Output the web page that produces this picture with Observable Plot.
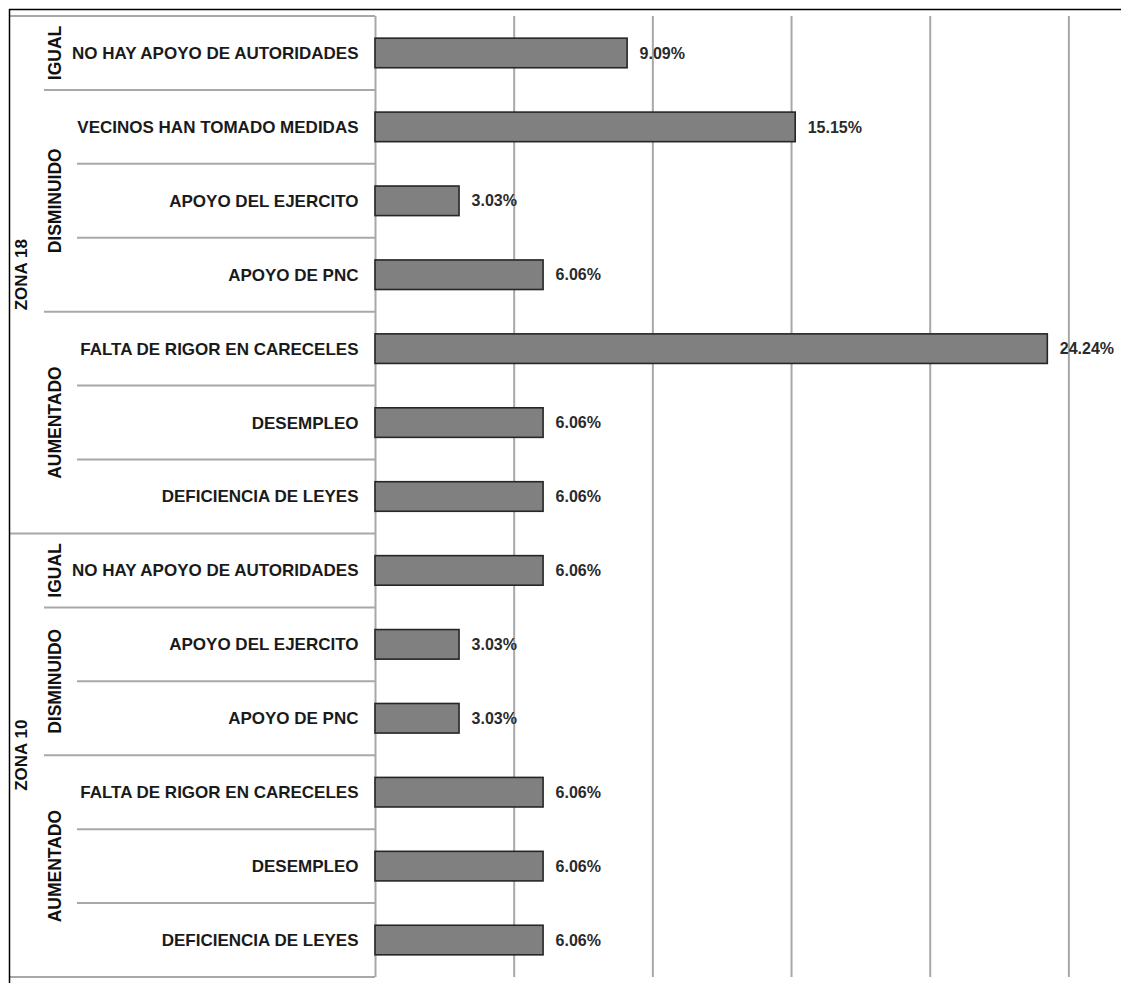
<!DOCTYPE html>
<html>
<head>
<meta charset="utf-8">
<script src="https://cdn.jsdelivr.net/npm/d3@7"></script>
<script src="https://cdn.jsdelivr.net/npm/@observablehq/plot@0.6"></script>
<style>
  html, body { margin: 0; padding: 0; background: #fff; }
  #chart svg { display: block; }
</style>
</head>
<body>
<div id="chart"></div>
<script>
// ---- data ----
const zona = ["ZONA 18","ZONA 18","ZONA 18","ZONA 18","ZONA 18","ZONA 18","ZONA 18",
              "ZONA 10","ZONA 10","ZONA 10","ZONA 10","ZONA 10","ZONA 10"];
const cambio = ["IGUAL","DISMINUIDO","DISMINUIDO","DISMINUIDO","AUMENTADO","AUMENTADO","AUMENTADO",
                "IGUAL","DISMINUIDO","DISMINUIDO","AUMENTADO","AUMENTADO","AUMENTADO"];
const motivo = ["NO HAY APOYO DE AUTORIDADES","VECINOS HAN TOMADO MEDIDAS","APOYO DEL EJERCITO","APOYO DE PNC",
                "FALTA DE RIGOR EN CARECELES","DESEMPLEO","DEFICIENCIA DE LEYES",
                "NO HAY APOYO DE AUTORIDADES","APOYO DEL EJERCITO","APOYO DE PNC",
                "FALTA DE RIGOR EN CARECELES","DESEMPLEO","DEFICIENCIA DE LEYES"];
const porcentaje = [9.09, 15.15, 3.03, 6.06, 24.24, 6.06, 6.06, 6.06, 3.03, 3.03, 6.06, 6.06, 6.06];
const xTicks = [5, 10, 15, 20, 25];

const rows = motivo.map((m, i) => ({i, zona: zona[i], cambio: cambio[i], motivo: m, v: porcentaje[i]}));

const labelFont = "'Liberation Sans Narrow', 'Liberation Sans', Arial, sans-serif";
const gridColor = "#a8a8a8";

const plot = Plot.plot({
  width: 1121,
  height: 983,
  marginLeft: 375,
  marginRight: 11,
  marginTop: 16,
  marginBottom: 6,
  style: {fontFamily: labelFont, background: "#fff"},
  x: {domain: [0, 26.5], axis: null},
  y: {domain: [0, rows.length], reverse: true, axis: null},
  marks: [
    Plot.ruleX(xTicks, {stroke: gridColor, strokeWidth: 2}),
    Plot.ruleX([0], {stroke: gridColor, strokeWidth: 2}),
    Plot.rectX(rows, {x1: 0, x2: "v", y1: d => d.i + 0.3, y2: d => d.i + 0.7,
                      fill: "#808080", stroke: "#262626", strokeWidth: 1.6}),
    Plot.text(rows, {x: "v", y: d => d.i + 0.5, text: d => d.v.toFixed(2) + "%",
                     dx: 12, textAnchor: "start", fontWeight: "bold", fontSize: 16, fill: "#2a2a2a"}),
    Plot.text(rows, {frameAnchor: "left", y: d => d.i + 0.5, text: "motivo",
                     dx: -17, textAnchor: "end", fontWeight: "bold", fontSize: 17, fill: "#1a1a1a"})
  ]
});

document.getElementById("chart").appendChild(plot);

// ---- category table drawn with the plot's y scale ----
const y = plot.scale("y");
const svg = d3.select(plot);
const X_ZONE = 10, X_CAMBIO = 44, X_MOTIVO = 77, X_AXIS = 375;
const sepG = svg.append("g").attr("stroke", gridColor).attr("stroke-width", 2);

function hline(v, x1) {
  sepG.append("line").attr("x1", x1).attr("x2", X_AXIS)
    .attr("y1", y.apply(v)).attr("y2", y.apply(v));
}
hline(0, X_ZONE);
hline(rows.length, X_ZONE);
for (let i = 1; i < rows.length; i++) {
  if (zona[i] !== zona[i - 1]) hline(i, X_ZONE);
  else if (cambio[i] !== cambio[i - 1]) hline(i, X_CAMBIO);
  else hline(i, X_MOTIVO);
}

// group spans
function spans(keyFn) {
  const out = [];
  let start = 0;
  for (let i = 1; i <= rows.length; i++) {
    if (i === rows.length || keyFn(i) !== keyFn(start)) {
      out.push({start, end: i, label: keyFn(start).split("|").pop()});
      start = i;
    }
  }
  return out;
}
const zoneSpans = spans(i => zona[i]);
const cambioSpans = spans(i => zona[i] + "|" + cambio[i]);

const txtG = svg.append("g")
  .attr("font-family", "'Liberation Sans', Arial, sans-serif")
  .attr("font-weight", "bold")
  .attr("fill", "#111")
  .attr("text-anchor", "middle");

function vlabel(s, cx, size) {
  const cy = (y.apply(s.start) + y.apply(s.end)) / 2;
  txtG.append("text")
    .attr("transform", `translate(${cx},${cy}) rotate(-90)`)
    .attr("dy", "0.35em")
    .attr("font-size", size)
    .text(s.label);
}
zoneSpans.forEach(s => vlabel(s, 21, 17));
cambioSpans.forEach(s => vlabel(s, 55, 17.5));

// outer frame (top and left)
svg.append("line").attr("x1", 9).attr("x2", 1121).attr("y1", 9.5).attr("y2", 9.5)
  .attr("stroke", "#000").attr("stroke-width", 1.5);
svg.append("line").attr("x1", 9.5).attr("x2", 9.5).attr("y1", 9).attr("y2", 983)
  .attr("stroke", "#000").attr("stroke-width", 1.5);
</script>
</body>
</html>
